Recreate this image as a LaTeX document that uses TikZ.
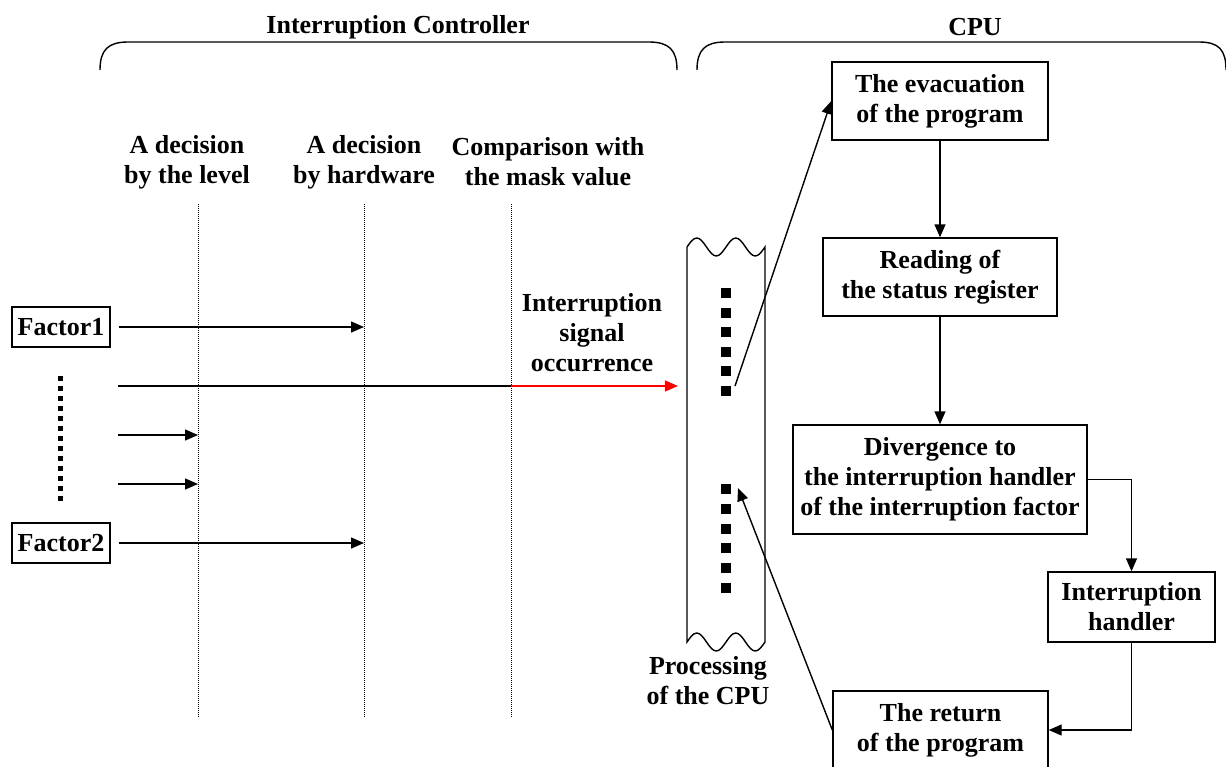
\documentclass[tikz,border=0pt]{standalone}
\usepackage{fontspec}
\setmainfont{Liberation Serif}
\usetikzlibrary{arrows.meta}
\begin{document}
\begin{tikzpicture}[x=1pt,y=-1pt,
  every node/.style={font=\fontsize{26}{30}\selectfont\bfseries},
  lbl/.style={align=center,inner sep=0pt},
  stepbox/.style={draw,line width=1.4pt,align=center,inner sep=0pt},
  conn/.style={line width=1.4pt},
  arr/.style={line width=1.4pt,-{Triangle[length=13pt,width=11pt]}},
  guide/.style={line width=0.9pt,dash pattern=on 1pt off 1pt},
  brace/.style={line width=1.4pt},
  blk/.style={fill=black,draw=none}]
\useasboundingbox (0,0) rectangle (1226,766);
\clip (0,0) rectangle (1226,766);

% group titles and brackets
\node[lbl] (tic) at (398,27) {Interruption Controller};
\node[lbl] (tcpu) at (975,27) {CPU};
\draw[brace] (100,70) .. controls (100,50) and (108,42) .. (128,42) -- (649,42)
  .. controls (669,42) and (677,50) .. (677,70);
\draw[brace] (697,70) .. controls (697,50) and (705,42) .. (725,42) -- (1199,42)
  .. controls (1219,42) and (1226,50) .. (1226,70);

% column headings and guide lines
\node[lbl] (h1) at (187,162) {A decision\\by the level};
\node[lbl] (h2) at (364,162) {A decision\\by hardware};
\node[lbl] (h3) at (548,162) {Comparison with\\the mask value};
\coordinate (g1t) at (198,204); \coordinate (g1b) at (198,718);
\coordinate (g2t) at (364,204); \coordinate (g2b) at (364,718);
\coordinate (g3t) at (511,204); \coordinate (g3b) at (511,718);
\draw[guide] (g1t) -- (g1b);
\draw[guide] (g2t) -- (g2b);
\draw[guide] (g3t) -- (g3b);

% interrupt sources
\node[stepbox,minimum width=98pt,minimum height=40pt] (f1) at (61,327) {Factor1};
\node[stepbox,minimum width=98pt,minimum height=40pt] (f2) at (61,543) {Factor2};
\foreach \k in {0,...,12} \fill[blk] (58,376+10*\k) rectangle ++(4.5,4.5);

\coordinate (f1e) at (364,327);
\coordinate (f2e) at (364,543);
\draw[arr,shorten <=8pt] (f1.east) -- (f1e);
\draw[arr,shorten <=8pt] (f2.east) -- (f2e);
\coordinate (s3) at (118,435); \coordinate (e3) at (198,435);
\coordinate (s4) at (118,484); \coordinate (e4) at (198,484);
\draw[arr] (s3) -- (e3);
\draw[arr] (s4) -- (e4);
\coordinate (s2) at (118,386); \coordinate (m2) at (511,386); \coordinate (e2) at (678,386);
\draw[conn] (s2) -- (m2);
\draw[arr,red] (m2) -- (e2);
\node[lbl] (sig) at (592,333) {Interruption\\signal\\occurrence};

% CPU processing strip
\draw[line width=1.4pt] (687,247) sin (696.75,238) cos (706.5,247) sin (716.25,256) cos (726,247)
  sin (735.75,238) cos (745.5,247) sin (755.25,256) cos (765,247) -- (765,642)
  (687,247) -- (687,642) sin (696.75,633) cos (706.5,642) sin (716.25,651) cos (726,642)
  sin (735.75,633) cos (745.5,642) sin (755.25,651) cos (765,642);
\foreach \y in {293,313,332,352,371,391,489,509,529,548,568,588}
  \fill[blk] (721,\y-5) rectangle ++(10,10);
\node[lbl] (proc) at (708,681) {Processing\\of the CPU};

% CPU steps
\node[stepbox,minimum width=216pt,minimum height=78pt] (evac) at (940,101) {The evacuation\\of the program};
\node[stepbox,minimum width=234pt,minimum height=78pt] (read) at (940,277) {Reading of\\the status register};
\node[stepbox,minimum width=294pt,minimum height=109pt] (div) at (940,479.5) {Divergence to\\the interruption handler\\of the interruption factor};
\node[stepbox,minimum width=167pt,minimum height=70pt] (hand) at (1131.5,607) {Interruption\\handler};
\node[stepbox,minimum width=215pt,minimum height=78pt] (ret) at (940.5,730) {The return\\of the program};

\draw[arr] (evac) -- (read);
\draw[arr] (read) -- (div);
\draw[arr] (div.east) -| (hand.north);
\draw[arr] (hand.south) |- (ret.east);

\coordinate (leave) at (735,386);
\coordinate (resume) at (738,488);
\draw[arr] (leave) -- (evac.west);
\draw[arr] (ret.west) -- (resume);
\end{tikzpicture}
\end{document}
